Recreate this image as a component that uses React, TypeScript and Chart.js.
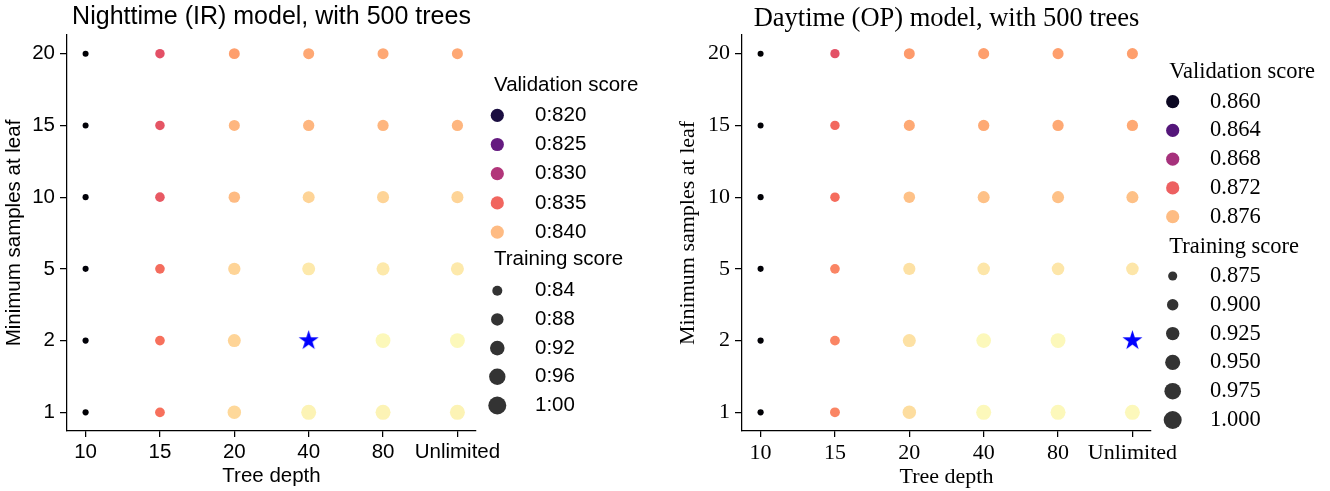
import { useEffect, useRef } from "react";
import { Chart, registerables } from "chart.js";

Chart.register(...registerables);

// ---------------- data ----------------
const depthLabels = ["10", "15", "20", "40", "80", "Unlimited"];
const leafLabels = ["1", "2", "5", "10", "15", "20"]; // bottom -> top

// rows follow leafLabels (1,2,5,10,15,20); columns follow depthLabels
const nightValidation = [
  [0.8168, 0.8357, 0.8416, 0.8432, 0.8432, 0.8432],
  [0.8170, 0.8357, 0.8414, 0.8438, 0.8435, 0.8435],
  [0.8170, 0.8354, 0.8414, 0.8426, 0.8426, 0.8426],
  [0.8170, 0.8341, 0.8400, 0.8414, 0.8414, 0.8414],
  [0.8170, 0.8338, 0.8397, 0.8397, 0.8397, 0.8397],
  [0.8168, 0.8335, 0.8384, 0.8389, 0.8389, 0.8389],
];
const nightTraining = [
  [0.828, 0.885, 0.963, 0.999, 1.0, 1.0],
  [0.828, 0.884, 0.951, 0.992, 0.996, 0.996],
  [0.827, 0.882, 0.936, 0.951, 0.952, 0.952],
  [0.827, 0.881, 0.918, 0.929, 0.93, 0.93],
  [0.826, 0.88, 0.909, 0.914, 0.914, 0.914],
  [0.826, 0.879, 0.907, 0.909, 0.909, 0.909],
];
const dayValidation = [
  [0.8588, 0.8737, 0.8774, 0.8786, 0.8786, 0.8786],
  [0.8589, 0.8737, 0.8776, 0.8786, 0.8786, 0.8788],
  [0.8589, 0.8737, 0.8776, 0.8778, 0.8778, 0.8778],
  [0.8589, 0.8726, 0.8762, 0.8762, 0.8762, 0.8762],
  [0.8589, 0.8724, 0.8752, 0.8752, 0.8752, 0.8752],
  [0.8588, 0.8712, 0.8746, 0.8748, 0.8748, 0.8748],
];
const dayTraining = [
  [0.876, 0.918, 0.973, 1.0, 1.0, 1.0],
  [0.876, 0.917, 0.965, 0.995, 0.997, 0.998],
  [0.875, 0.915, 0.952, 0.957, 0.958, 0.958],
  [0.875, 0.913, 0.941, 0.949, 0.949, 0.949],
  [0.874, 0.912, 0.935, 0.938, 0.938, 0.938],
  [0.874, 0.911, 0.933, 0.935, 0.935, 0.935],
];

const nightValLegend = [0.82, 0.825, 0.83, 0.835, 0.84];
const nightValLegendLabels = ["0:820", "0:825", "0:830", "0:835", "0:840"];
const nightTrainLegend = [0.84, 0.88, 0.92, 0.96, 1.0];
const nightTrainLegendLabels = ["0:84", "0:88", "0:92", "0:96", "1:00"];
const dayValLegend = [0.86, 0.864, 0.868, 0.872, 0.876];
const dayValLegendLabels = ["0.860", "0.864", "0.868", "0.872", "0.876"];
const dayTrainLegend = [0.875, 0.9, 0.925, 0.95, 0.975, 1.0];
const dayTrainLegendLabels = ["0.875", "0.900", "0.925", "0.950", "0.975", "1.000"];

// ---------------- styles ----------------
const MAGMA = [
  "#000004", "#140e36", "#3b0f70", "#641a80", "#8c2981", "#b73779",
  "#de4968", "#f7705c", "#fe9f6d", "#fecf92", "#fcfdbf",
];
const AREA_MIN = 81;
const AREA_MAX = 324;

function hexToRgb(h: string) {
  return [parseInt(h.slice(1, 3), 16), parseInt(h.slice(3, 5), 16), parseInt(h.slice(5, 7), 16)];
}
function magma(t: number) {
  const tt = Math.min(1, Math.max(0, t)) * (MAGMA.length - 1);
  const i = Math.min(MAGMA.length - 2, Math.floor(tt));
  const f = tt - i;
  const a = hexToRgb(MAGMA[i]);
  const b = hexToRgb(MAGMA[i + 1]);
  const c = a.map((v, k) => Math.round(v + (b[k] - v) * f));
  return `rgb(${c[0]},${c[1]},${c[2]})`;
}

function makeStar(R: number) {
  const c = document.createElement("canvas");
  const s = Math.ceil(2 * R + 2);
  c.width = s;
  c.height = s;
  const ctx = c.getContext("2d")!;
  const cx = s / 2;
  const cy = s / 2;
  const r = R * 0.381966;
  ctx.beginPath();
  for (let i = 0; i < 10; i++) {
    const ang = -Math.PI / 2 + (i * Math.PI) / 5;
    const rad = i % 2 === 0 ? R : r;
    ctx.lineTo(cx + rad * Math.cos(ang), cy + rad * Math.sin(ang));
  }
  ctx.closePath();
  ctx.fillStyle = "#0000ff";
  ctx.fill();
  return c;
}

type Cfg = {
  title: string;
  family: string;
  titleSize: number;
  titleBaseline: number;
  fontSize: number;
  legendSize: number;
  validation: number[][];
  training: number[][];
  valLegend: number[];
  valLegendLabels: string[];
  trainLegend: number[];
  trainLegendLabels: string[];
  yAxisWidth: number;
  padRight: number;
  yTitlePad: number;
  xTitlePad: number;
  legend: {
    titleX: number;
    markerX: number;
    textX: number;
    valTitleY: number;
    valY0: number;
    valStep: number;
    trainTitleY: number;
    trainY0: number;
    trainStep: number;
  };
};

function buildChart(canvas: HTMLCanvasElement, cfg: Cfg) {
  const flatV = cfg.validation.flat();
  const flatT = cfg.training.flat();
  const vmin = Math.min(...flatV);
  const vmax = Math.max(...flatV);
  const tmin = Math.min(...flatT);
  const tmax = Math.max(...flatT);
  const color = (v: number) => magma((v - vmin) / (vmax - vmin));
  const area = (t: number) => AREA_MIN + ((t - tmin) / (tmax - tmin)) * (AREA_MAX - AREA_MIN);

  let bestR = 0;
  let bestC = 0;
  cfg.validation.forEach((row, r) =>
    row.forEach((v, c) => {
      if (v > cfg.validation[bestR][bestC]) {
        bestR = r;
        bestC = c;
      }
    })
  );

  const pts: { x: number; y: number }[] = [];
  const cols: string[] = [];
  const radii: number[] = [];
  cfg.validation.forEach((row, r) =>
    row.forEach((v, c) => {
      if (r === bestR && c === bestC) return;
      pts.push({ x: c, y: r });
      cols.push(color(v));
      radii.push(Math.max(1, (Math.sqrt(area(cfg.training[r][c])) - 3) / 2));
    })
  );

  const fam = cfg.family;
  const L = cfg.legend;

  const overlay = {
    id: "overlay",
    afterDraw(chart: any) {
      const ctx = chart.ctx as CanvasRenderingContext2D;
      const ca = chart.chartArea;
      ctx.save();
      ctx.fillStyle = "#000";
      ctx.font = `${cfg.titleSize}px ${fam}`;
      ctx.textAlign = "center";
      ctx.textBaseline = "alphabetic";
      ctx.fillText(cfg.title, (ca.left + ca.right) / 2, cfg.titleBaseline);

      ctx.font = `${cfg.legendSize}px ${fam}`;
      ctx.textAlign = "left";
      ctx.textBaseline = "middle";
      ctx.fillStyle = "#000";
      ctx.fillText("Validation score", L.titleX, L.valTitleY);
      cfg.valLegend.forEach((v, i) => {
        const y = L.valY0 + i * L.valStep;
        ctx.beginPath();
        ctx.arc(L.markerX, y, 6.6, 0, Math.PI * 2);
        ctx.fillStyle = color(v);
        ctx.fill();
        ctx.fillStyle = "#000";
        ctx.fillText(cfg.valLegendLabels[i], L.textX, y);
      });
      ctx.fillText("Training score", L.titleX, L.trainTitleY);
      cfg.trainLegend.forEach((t, i) => {
        const y = L.trainY0 + i * L.trainStep;
        ctx.beginPath();
        ctx.arc(L.markerX, y, Math.sqrt(area(t)) / 2, 0, Math.PI * 2);
        ctx.fillStyle = "#333333";
        ctx.fill();
        ctx.fillStyle = "#000";
        ctx.fillText(cfg.trainLegendLabels[i], L.textX, y);
      });
      ctx.restore();
    },
  };

  const tickFont = { family: fam, size: cfg.fontSize };

  return new Chart(canvas, {
    type: "scatter",
    data: {
      datasets: [
        {
          data: pts,
          pointBackgroundColor: cols,
          pointRadius: radii,
          pointBorderWidth: 0,
          pointHoverRadius: radii,
        },
        {
          data: [{ x: bestC, y: bestR }],
          pointStyle: makeStar(10.5) as any,
          pointRadius: 10,
        },
      ],
    },
    options: {
      responsive: false,
      maintainAspectRatio: false,
      devicePixelRatio: 1,
      animation: false,
      events: [],
      layout: { padding: { left: 0, top: 35, right: cfg.padRight, bottom: 0 } },
      plugins: { legend: { display: false }, tooltip: { enabled: false }, title: { display: false } },
      scales: {
        x: {
          type: "linear",
          min: -0.25,
          max: 5.25,
          afterBuildTicks: (s: any) => {
            s.ticks = depthLabels.map((_, i) => ({ value: i }));
          },
          afterFit: (s: any) => {
            s.height = 60;
          },
          ticks: {
            callback: (v: any) => depthLabels[v as number] ?? "",
            color: "#000",
            font: tickFont,
            padding: 3,
            maxRotation: 0,
            autoSkip: false,
          },
          grid: { display: true, drawOnChartArea: false, drawTicks: true, tickLength: 6, color: "#000", lineWidth: 1.25 },
          border: { display: true, color: "#000", width: 1.25 },
          title: { display: true, text: "Tree depth", color: "#000", font: tickFont, padding: { top: 0, bottom: cfg.xTitlePad } },
        },
        y: {
          type: "linear",
          min: -0.26,
          max: 5.26,
          afterBuildTicks: (s: any) => {
            s.ticks = leafLabels.map((_, i) => ({ value: i }));
          },
          afterFit: (s: any) => {
            s.width = cfg.yAxisWidth;
          },
          ticks: {
            callback: (v: any) => leafLabels[v as number] ?? "",
            color: "#000",
            font: tickFont,
            padding: 5,
            autoSkip: false,
          },
          grid: { display: true, drawOnChartArea: false, drawTicks: true, tickLength: 7, color: "#000", lineWidth: 1.25 },
          border: { display: true, color: "#000", width: 1.25 },
          title: {
            display: true,
            text: "Minimum samples at leaf",
            color: "#000",
            font: tickFont,
            padding: { top: cfg.yTitlePad, bottom: 0 },
          },
        },
      },
    } as any,
    plugins: [overlay as any],
  });
}

const SANS = "'Liberation Sans', Arial, sans-serif";
const SERIF = "'Liberation Serif', 'Times New Roman', serif";

const nightCfg: Cfg = {
  title: "Nighttime (IR) model, with 500 trees",
  family: SANS,
  titleSize: 25,
  titleBaseline: 24,
  fontSize: 20.5,
  legendSize: 20.5,
  validation: nightValidation,
  training: nightTraining,
  valLegend: nightValLegend,
  valLegendLabels: nightValLegendLabels,
  trainLegend: nightTrainLegend,
  trainLegendLabels: nightTrainLegendLabels,
  yAxisWidth: 67,
  padRight: 189,
  yTitlePad: 2,
  xTitlePad: 2,
  legend: {
    titleX: 494,
    markerX: 497.3,
    textX: 535,
    valTitleY: 85.3,
    valY0: 115.3,
    valStep: 29.2,
    trainTitleY: 259,
    trainY0: 290.7,
    trainStep: 28.7,
  },
};

const dayCfg: Cfg = {
  title: "Daytime (OP) model, with 500 trees",
  family: SERIF,
  titleSize: 26.5,
  titleBaseline: 26,
  fontSize: 22,
  legendSize: 22.5,
  validation: dayValidation,
  training: dayTraining,
  valLegend: dayValLegend,
  valLegendLabels: dayValLegendLabels,
  trainLegend: dayTrainLegend,
  trainLegendLabels: dayTrainLegendLabels,
  yAxisWidth: 77,
  padRight: 179,
  yTitlePad: 10,
  xTitlePad: 1,
  legend: {
    titleX: 504.3,
    markerX: 507.7,
    textX: 545,
    valTitleY: 71.7,
    valY0: 101.7,
    valStep: 28.75,
    trainTitleY: 246.7,
    trainY0: 276,
    trainStep: 28.8,
  },
};

export default function App() {
  const leftRef = useRef<HTMLCanvasElement>(null);
  const rightRef = useRef<HTMLCanvasElement>(null);
  useEffect(() => {
    const a = buildChart(leftRef.current!, nightCfg);
    const b = buildChart(rightRef.current!, dayCfg);
    return () => {
      a.destroy();
      b.destroy();
    };
  }, []);
  return (
    <div style={{ position: "fixed", left: 0, top: 0, width: 1330, height: 491, background: "#fff" }}>
      <canvas
        ref={leftRef}
        width={665}
        height={491}
        style={{ position: "absolute", left: 0, top: 0, width: 665, height: 491 }}
      />
      <canvas
        ref={rightRef}
        width={665}
        height={491}
        style={{ position: "absolute", left: 665, top: 0, width: 665, height: 491 }}
      />
    </div>
  );
}
